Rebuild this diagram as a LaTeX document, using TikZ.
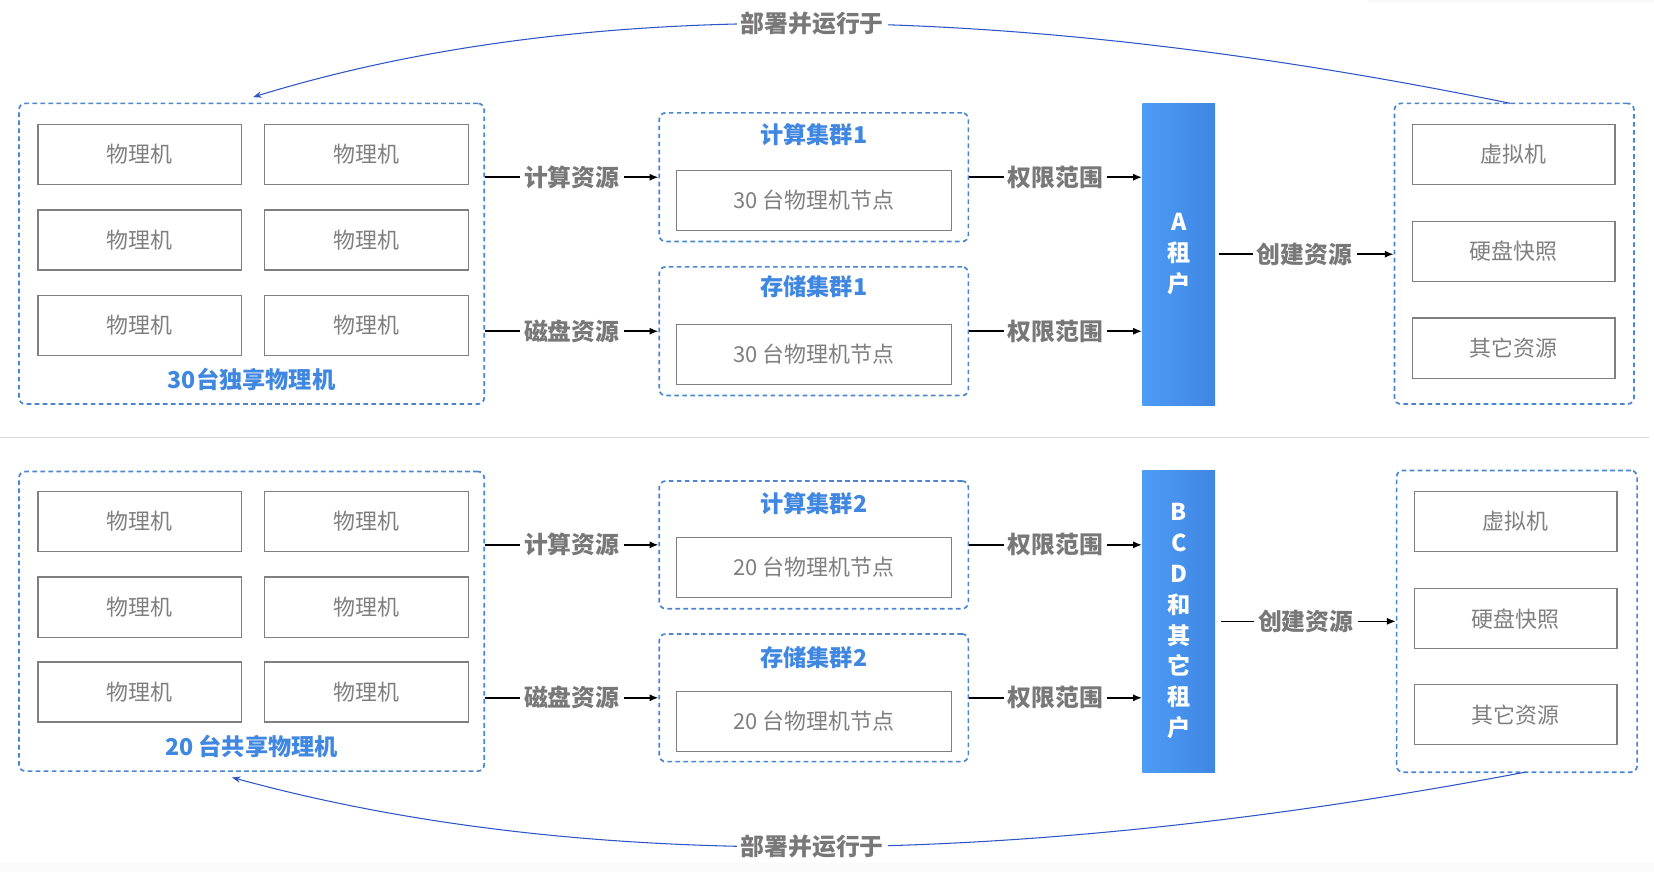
\documentclass[tikz,border=0pt]{standalone}
\usepackage{fontspec}
\setmainfont{Noto Sans CJK SC}
\usetikzlibrary{arrows.meta,positioning}
\definecolor{txtgray}{HTML}{7F7F7F}
\definecolor{lblgray}{HTML}{787878}
\definecolor{ttlblue}{HTML}{3F87E0}
\definecolor{dashblue}{HTML}{4A86D0}
\definecolor{barleft}{HTML}{4D9CF6}
\definecolor{barright}{HTML}{3F86E2}
\definecolor{curveblue}{HTML}{2E55C8}
\tikzset{>={Latex[width=3.4pt,length=4.2pt]}}
\tikzset{group/.style={draw=dashblue, dash pattern=on 2.2pt off 1.6pt,
    line width=.8pt, rounded corners=3pt, inner sep=0pt}}
\tikzset{pbox/.style={draw=txtgray, line width=.6pt, fill=white, text=txtgray,
    font=\fontsize{10.4}{12}\selectfont, inner sep=0pt,
    minimum width=96.5pt, minimum height=28.5pt}}
\tikzset{wbox/.style={pbox, minimum width=130.5pt}}
\tikzset{vbox/.style={pbox, minimum width=96pt}}
\tikzset{title/.style={text=ttlblue, font=\fontsize{11}{13}\selectfont\bfseries}}
\tikzset{flow/.style={->, line width=.75pt}}
\tikzset{reslbl/.style={fill=white, text=lblgray,
    font=\fontsize{11.3}{13}\selectfont\bfseries, inner sep=2pt}}
\tikzset{tenant/.style={left color=barleft, right color=barright, text=white,
    font=\fontsize{11}{14.6}\selectfont\bfseries, align=center,
    minimum width=34.5pt, minimum height=143pt, inner sep=0pt}}
\tikzset{deploy/.style={-{Stealth[width=3pt,length=4pt]}, draw=curveblue,
    line width=.5pt}}

\begin{document}
\begin{tikzpicture}[x=.5pt, y=-.5pt]
    \useasboundingbox[fill=white] (0,0) rectangle (1568,827);
    \fill[gray!4] (0,818) rectangle (1568,827);
    \fill[gray!5] (1297,0) rectangle (1568,3);
    \draw[gray!30, line width=.6pt] (0,415) -- (1563,415);

    % upper half: tenant A
    \node[group, minimum width=220.5pt, minimum height=142.5pt] (hostsA) at (238.5,240.5) {};
    \foreach \r/\y in {1/146.5,2/227.5,3/308.5}
    \foreach \c/\x in {1/132.5,2/347.5}
    \node[pbox] (pmA\r\c) at (\x,\y) {物理机};
    \node[title] (hostsAlbl) at (238.5,360) {30台独享物理机};

    \node[group, minimum width=146.5pt, minimum height=61pt] (compA) at (771.5,168) {};
    \node[title] (compAlbl) at (771.5,128) {计算集群1};
    \node[wbox] (compAnode) at (771.5,190) {30 台物理机节点};
    \node[group, minimum width=146.5pt, minimum height=61pt] (storA) at (771.5,314) {};
    \node[title] (storAlbl) at (771.5,272) {存储集群1};
    \node[wbox] (storAnode) at (771.5,336) {30 台物理机节点};

    \node[tenant] (tenantA) at (1117.5,241) {A\\租\\户};

    \node[group, minimum width=113.5pt, minimum height=142.5pt] (resA) at (1435.5,240.5) {};
    \node[vbox] (vmA) at (1435,146.5) {虚拟机};
    \node[vbox] (snapA) at (1435,238.5) {硬盘快照};
    \node[vbox] (otherA) at (1435,330) {其它资源};

    \draw[flow] (hostsA.east |- compA.west) -- node[reslbl] (cpuA) {计算资源} (compA.west);
    \draw[flow] (hostsA.east |- storA.west) -- node[reslbl] (diskA) {磁盘资源} (storA.west);
    \draw[flow] (compA.east) -- node[reslbl] (permA1) {权限范围} (compA.east -| tenantA.west);
    \draw[flow] (storA.east) -- node[reslbl] (permA2) {权限范围} (storA.east -| tenantA.west);
    \draw[flow, shorten <=1.5pt] (tenantA.east) -- node[reslbl] (mkA) {创建资源} (tenantA.east -| resA.west);

    \coordinate (topR) at (1432,98);
    \coordinate (topL) at (240,92);
    \draw[deploy] (topR) .. controls (947,-1) and (549,-3) ..
    node[reslbl] (runA) {部署并运行于} (topL);

    % lower half: tenants B, C, D and others
    \node[group, minimum width=220.5pt, minimum height=142pt] (hostsB) at (238.5,589) {};
    \foreach \r/\y in {1/494.5,2/575.5,3/656}
    \foreach \c/\x in {1/132.5,2/347.5}
    \node[pbox] (pmB\r\c) at (\x,\y) {物理机};
    \node[title] (hostsBlbl) at (238.5,708) {20 台共享物理机};

    \node[group, minimum width=146.5pt, minimum height=60.5pt] (compB) at (771.5,516.5) {};
    \node[title] (compBlbl) at (771.5,477) {计算集群2};
    \node[wbox] (compBnode) at (771.5,538) {20 台物理机节点};
    \node[group, minimum width=146.5pt, minimum height=60.5pt] (storB) at (771.5,661.5) {};
    \node[title] (storBlbl) at (771.5,623) {存储集群2};
    \node[wbox] (storBnode) at (771.5,684) {20 台物理机节点};

    \node[tenant] (tenantB) at (1117.5,589) {B\\C\\D\\和\\其\\它\\租\\户};

    \node[group, minimum width=114pt, minimum height=143pt] (resB) at (1438,589) {};
    \node[vbox] (vmB) at (1437,494.5) {虚拟机};
    \node[vbox] (snapB) at (1437,586.5) {硬盘快照};
    \node[vbox] (otherB) at (1437,677.5) {其它资源};

    \draw[flow] (hostsB.east |- compB.west) -- node[reslbl] (cpuB) {计算资源} (compB.west);
    \draw[flow] (hostsB.east |- storB.west) -- node[reslbl] (diskB) {磁盘资源} (storB.west);
    \draw[flow] (compB.east) -- node[reslbl] (permB1) {权限范围} (compB.east -| tenantB.west);
    \draw[flow] (storB.east) -- node[reslbl] (permB2) {权限范围} (storB.east -| tenantB.west);
    \draw[flow, shorten <=2.5pt] (tenantB.east) -- node[reslbl] (mkB) {创建资源} (tenantB.east -| resB.west);

    \coordinate (botR) at (1446,732);
    \coordinate (botL) at (220,737);
    \draw[deploy] (botR) .. controls (953,825) and (545,826) ..
    node[reslbl] (runB) {部署并运行于} (botL);
\end{tikzpicture}
\end{document}
